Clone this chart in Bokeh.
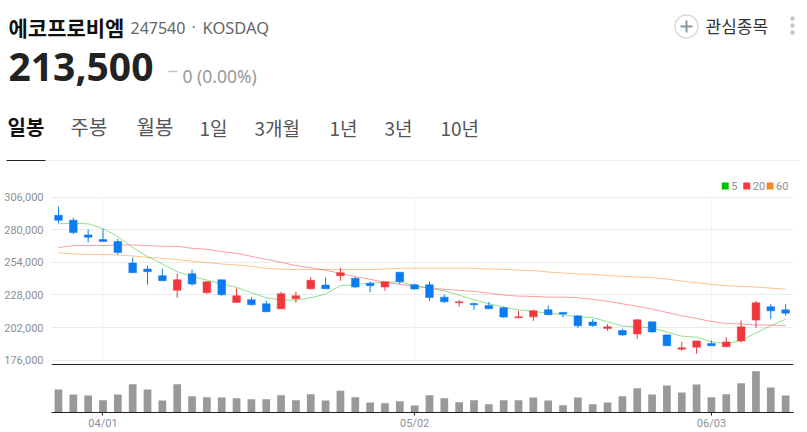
from bokeh.core.properties import value
from bokeh.embed import file_html
from bokeh.layouts import column
from bokeh.models import ColumnDataSource, FixedTicker, NumeralTickFormatter, Range1d, Span
from bokeh.plotting import figure
from bokeh.resources import INLINE

# daily candles
opens = [291600, 287600, 275900, 272200, 270600, 253500, 248700, 243400, 231700, 245000,
         229800, 240200, 222100, 224200, 221000, 217000, 225000, 233000, 235900, 243400,
         241300, 237300, 234300, 246100, 236200, 236200, 226300, 221800, 221300, 219700,
         217800, 209800, 210600, 216200, 214100, 211400, 206400, 201300, 199700, 197000,
         206600, 196200, 184800, 186400, 189300, 186700, 191400, 208000, 218600, 216200]
highs = [298500, 289500, 280200, 280700, 272700, 257800, 251400, 249000, 245000, 248200,
         238600, 240200, 233300, 226300, 223400, 230600, 230600, 242300, 241800, 249800,
         242300, 238600, 238600, 246600, 237000, 238600, 228200, 223900, 221800, 222400,
         218600, 215400, 216200, 219700, 214600, 212000, 208800, 204800, 201000, 209000,
         206600, 196800, 190600, 191400, 191700, 194400, 207700, 223400, 221000, 221000]
lows = [285200, 276400, 270000, 270600, 260400, 245500, 236200, 239400, 225800, 235400,
        229000, 227400, 221800, 219700, 214600, 216800, 221800, 232500, 233000, 239400,
        233800, 230100, 231400, 236700, 232500, 223400, 221800, 218600, 216200, 217000,
        209800, 209800, 207400, 212200, 210100, 201800, 202600, 199400, 195400, 193000,
        197800, 187500, 183500, 181100, 187500, 186700, 190100, 201800, 208800, 211400]
closes = [287600, 277800, 274000, 270600, 261800, 245800, 246600, 239400, 240200, 236700,
          238600, 228200, 227400, 220200, 214600, 229000, 227400, 239700, 233000, 245800,
          234300, 235400, 238600, 238600, 232700, 226100, 222600, 222600, 220200, 217000,
          210400, 210600, 215400, 212200, 212800, 203400, 203700, 202600, 196200, 208200,
          198600, 187500, 185900, 191400, 187500, 190600, 202600, 221800, 215400, 213500]

ma5 = [284700, 285200, 284700, 281000, 274600, 265800, 258800, 252700, 246600, 242600,
       239900, 236700, 234100, 229800, 225800, 224200, 223900, 225800, 228700, 235400,
       236200, 237500, 238100, 238600, 235400, 233300, 231400, 227900, 224200, 221000,
       218400, 216200, 214900, 213600, 212200, 210600, 210100, 206600, 203400, 202600,
       201800, 198400, 195200, 194400, 190600, 189300, 191700, 197800, 203400, 208800]
ma20 = [265800, 267400, 267400, 267400, 267900, 267900, 267400, 266800, 266800, 265200,
        264400, 262600, 261200, 258800, 256400, 254100, 251400, 249800, 247700, 245300,
        242600, 240500, 238100, 236500, 234900, 233800, 232500, 231700, 230900, 229500,
        227900, 227100, 226900, 226300, 226300, 225800, 224500, 222900, 221000, 218900,
        216800, 214100, 211400, 209300, 206900, 205300, 204800, 204200, 204000, 203700]
ma60 = [261500, 260700, 260400, 260400, 259900, 259100, 258000, 257200, 256200, 254900,
        253800, 252700, 251900, 250900, 249300, 248700, 248200, 248200, 248200, 248200,
        248200, 248200, 248700, 249300, 249300, 249300, 249300, 249300, 249300, 248700,
        248500, 247900, 247400, 246300, 245500, 244700, 244500, 243400, 242900, 242300,
        241800, 240700, 239100, 237800, 236500, 235400, 234900, 234300, 233500, 232700]

volumes = [69000, 54000, 51000, 37000, 54000, 85000, 69000, 36000, 85000, 49000,
           46000, 45000, 43000, 40000, 40000, 52000, 37000, 55000, 36000, 65000,
           46000, 30000, 28000, 34000, 21000, 52000, 43000, 31000, 37000, 25000,
           37000, 37000, 45000, 36000, 22000, 45000, 25000, 30000, 49000, 73000,
           54000, 81000, 60000, 84000, 46000, 55000, 88000, 124000, 75000, 51000]

price_ticks = [176000, 202000, 228000, 254000, 280000, 306000]
date_ticks = {3: "04/01", 24: "05/02", 44: "06/03"}
tabs = [("일봉", 7), ("주봉", 70), ("월봉", 136), ("1일", 199), ("3개월", 254), ("1년", 329), ("3년", 384), ("10년", 440)]

UP = "#f0383c"
DOWN = "#0a7cf0"
KR = "Noto Sans CJK KR"
LATIN = "Noto Sans"
AXIS_FONT = "Roboto"

# header: ranges are the page's own pixels
head = figure(width=807, height=176, x_range=(0, 807), y_range=(176, 0), x_axis_location=None,
              y_axis_location=None, toolbar_location=None, output_backend="svg", outline_line_color=None,
              min_border=0)
head.grid.visible = False


def put(x, y, s, size, color="#555555", font=KR, style="normal"):
    head.text([x], [y], text=[s], text_font=value(font), text_font_size=f"{size}px", text_color=color,
              text_font_style=style, text_baseline="middle", text_align="left")


put(8, 26, "에코프로비엠", 21, "#111111", style="bold")
put(130, 27, "247540", 16, "#666666", LATIN)
put(191, 26, "·", 16, "#888888", LATIN)
put(202, 27, "KOSDAQ", 16.5, "#666666", LATIN)
put(8, 66, "213,500", 39, "#222222", LATIN, "bold")
head.segment([168], [71], [177], [71], line_color="#c4c4c4", line_width=1.5)
put(182, 75, "0 (0.00%)", 17.5, "#999999", LATIN)

for i, (name, x) in enumerate(tabs):
    if name[0].isdigit():
        put(x, 127, name, 19, "#555555")
    else:
        put(x, 126, name, 20, "#111111" if i == 0 else "#555555", style="bold" if i == 0 else "normal")

head.segment([6], [160], [799], [160], line_color="#eeeeee", line_width=1)
head.segment([6], [160], [45], [160], line_color="#222222", line_width=1)

head.circle([686], [26], radius=11.5, fill_color="white", line_color="#d8dbe2", line_width=1.5)
head.segment([680, 686], [26, 20], [692, 686], [26, 32], line_color="#8a95a5", line_width=2)
put(705, 25, "관심종목", 17, "#333333")
head.circle([792, 792, 792], [18, 25, 32], radius=2.2, fill_color="#c2c5ca", line_color=None)

# chart: price and volume share one frame, volume on its own range.
# the frame runs above the top tick so the moving average key fits inside it
xs = list(range(len(closes)))
source = ColumnDataSource(data=dict(
    x=xs,
    high=highs,
    low=lows,
    top=[max(o, c) for o, c in zip(opens, closes)],
    bottom=[min(o, c) for o, c in zip(opens, closes)],
    color=[UP if c >= o else DOWN for o, c in zip(opens, closes)],
    vol=volumes,
))

p = figure(width=807, height=256, x_range=(-0.47, 49.53), y_range=(134350, 320850), toolbar_location=None,
           output_backend="svg", outline_line_color=None, min_border_left=51, min_border_right=14,
           min_border_top=2, min_border_bottom=20)
p.extra_y_ranges = {"vol": Range1d(0, 702000)}

p.xgrid.visible = False
p.ygrid.ticker = FixedTicker(ticks=price_ticks)
p.ygrid.grid_line_color = "#e9ebee"

p.yaxis.ticker = FixedTicker(ticks=price_ticks)
p.yaxis.formatter = NumeralTickFormatter(format="0,0")
p.yaxis.axis_line_color = None
p.yaxis.major_tick_line_color = None
p.yaxis.minor_tick_line_color = None
p.yaxis.major_label_standoff = 2
p.yaxis.major_label_text_font = AXIS_FONT
p.yaxis.major_label_text_font_size = "11px"
p.yaxis.major_label_text_color = "#8c8f96"

p.xaxis.ticker = FixedTicker(ticks=list(date_ticks))
p.xaxis.major_label_overrides = date_ticks
p.xaxis.axis_line_color = "#222222"
p.xaxis.major_tick_line_color = "#222222"
p.xaxis.major_tick_in = 0
p.xaxis.major_tick_out = 3
p.xaxis.minor_tick_line_color = None
p.xaxis.major_label_standoff = 1
p.xaxis.major_label_text_font = AXIS_FONT
p.xaxis.major_label_text_font_size = "11px"
p.xaxis.major_label_text_color = "#8c8f96"

p.segment(list(date_ticks), price_ticks[0], list(date_ticks), price_ticks[-1], line_color="#f0f1f3")
p.add_layout(Span(location=172600, dimension="width", line_color="#222222", line_width=1))

p.vbar(x="x", top="vol", bottom=0, width=0.52, source=source, y_range_name="vol",
       fill_color="#999999", line_color=None)

p.line(xs, ma60, line_color="#f58a1f", line_alpha=0.5, line_width=1)
p.line(xs, ma20, line_color="#ff3a48", line_alpha=0.5, line_width=1)
p.line(xs, ma5, line_color="#22c322", line_alpha=0.5, line_width=1)

p.segment(x0="x", y0="high", x1="x", y1="low", source=source, line_color="color", line_width=1)
p.vbar(x="x", top="top", bottom="bottom", width=0.52, source=source, fill_color="color", line_color="color",
       line_width=0.5)

# moving average key
for x, color, label in [(44.93, "#00c000", "5"), (46.38, "#ff3a3a", "20"), (47.95, "#f58a1f", "60")]:
    p.rect([x], [314850], width=0.47, height=5580, fill_color=color, line_color=None)
    p.text([x], [314850], text=[label], x_offset=6, text_font=value(AXIS_FONT), text_font_size="11px",
           text_color="#8c8f96", text_baseline="middle")

page = column(column(head), p, spacing=0)
open("out.html", "w").write(file_html(page, INLINE))
